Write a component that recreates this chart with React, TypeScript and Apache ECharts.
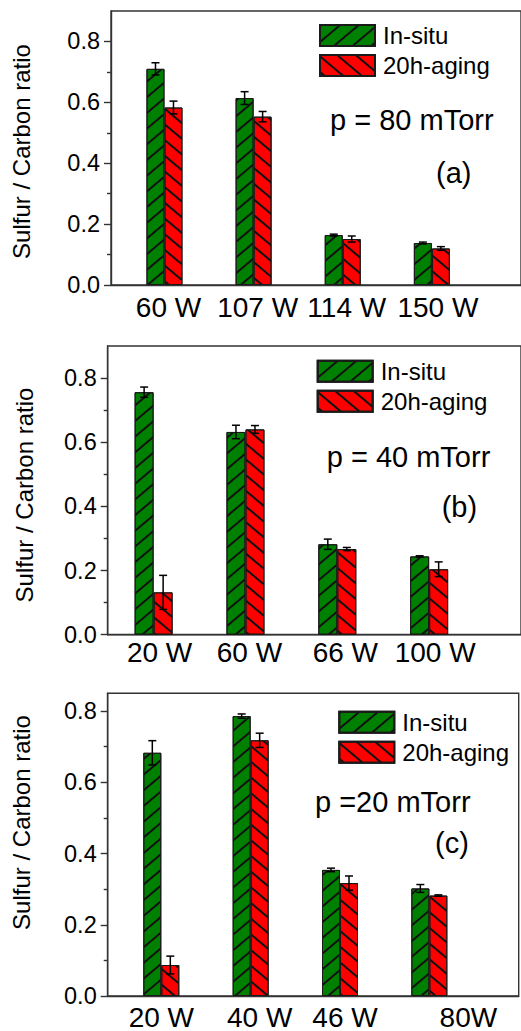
import { useEffect, useRef } from 'react';
import * as echarts from 'echarts';

const FONT = "'Liberation Sans', Arial, sans-serif";

const seriesNames = ['In-situ', '20h-aging'];
const yTitle = 'Sulfur / Carbon ratio';
const yTicks = [0, 0.2, 0.4, 0.6, 0.8];
const yMinorTicks = [0.1, 0.3, 0.5, 0.7];

// Panel (a) p = 80 mTorr
const catsA = ['60 W', '107 W', '114 W', '150 W'];
const inSituA = [0.71, 0.614, 0.164, 0.138];
const inSituErrA = [0.02, 0.021, 0.003, 0.003];
const agingA = [0.583, 0.553, 0.151, 0.12];
const agingErrA = [0.021, 0.017, 0.01, 0.006];

// Panel (b) p = 40 mTorr
const catsB = ['20 W', '60 W', '66 W', '100 W'];
const inSituB = [0.756, 0.632, 0.282, 0.244];
const inSituErrB = [0.016, 0.021, 0.016, 0.002];
const agingB = [0.132, 0.64, 0.267, 0.204];
const agingErrB = [0.053, 0.012, 0.005, 0.023];

// Panel (c) p = 20 mTorr
const catsC = ['20 W', '40 W', '46 W', '80W'];
const inSituC = [0.683, 0.786, 0.354, 0.302];
const inSituErrC = [0.034, 0.006, 0.005, 0.011];
const agingC = [0.087, 0.718, 0.317, 0.282];
const agingErrC = [0.025, 0.02, 0.02, 0.002];

const panels = [
  {
    cats: catsA, a: inSituA, aErr: inSituErrA, b: agingA, bErr: agingErrA,
    note: 'p = 80 mTorr', tag: '(a)', yMax: 0.9, xMin: 0.4, xMax: 5,
    grid: { left: 111, top: 11, width: 411, height: 274 },
    barWidth: 18, labelMargin: 8, labelShift: [4, 4, 4, 6],
    legend: { left: 319, top: 23.5 },
    notePos: [330, 120], tagPos: [436, 172.5], titlePos: [21, 151.5],
  },
  {
    cats: catsB, a: inSituB, aErr: inSituErrB, b: agingB, bErr: agingErrB,
    note: 'p = 40 mTorr', tag: '(b)', yMax: 0.9, xMin: 0.5, xMax: 5,
    grid: { left: 107.7, top: 346, width: 416.7, height: 288.7 },
    barWidth: 19, labelMargin: 4, labelShift: [6, 4, 8, 6],
    legend: { left: 316.7, top: 359.2 },
    notePos: [326.7, 456.7], tagPos: [441.7, 506.7], titlePos: [24, 495],
  },
  {
    cats: catsC, a: inSituC, aErr: inSituErrC, b: agingC, bErr: agingErrC,
    note: 'p =20 mTorr', tag: '(c)', yMax: 0.85, xMin: 0.4, xMax: 5,
    grid: { left: 107.7, top: 693.3, width: 411, height: 302.7 },
    barWidth: 18, labelMargin: 7, labelShift: [0, 9, 5, 39],
    legend: { left: 338.3, top: 710.2 },
    notePos: [315, 801.7], tagPos: [435, 843.3], titlePos: [21.7, 822.5],
  },
];

const GREEN = '#008000';
const RED = '#ff0000';
const AXIS = { color: '#333', width: 1.4 };

function hatch(rotation: number) {
  return {
    symbol: 'rect',
    symbolSize: 1,
    color: '#111',
    dashArrayX: [1, 0],
    dashArrayY: [1.4, 9.6],
    rotation,
  };
}

function errorBars(values: number[], errs: number[], shift: number, gi: number) {
  return {
    type: 'custom',
    xAxisIndex: gi,
    yAxisIndex: gi * 2,
    z: 10,
    silent: true,
    encode: { x: 0, y: 1 },
    data: values.map((v, k) => [k + 1, v, errs[k]]),
    renderItem: (_params: any, api: any) => {
      const x = api.value(0);
      const y = api.value(1);
      const e = api.value(2);
      const top = api.coord([x, y + e]);
      const bot = api.coord([x, y - e]);
      const cx = top[0] + shift;
      const st = { stroke: '#000', lineWidth: 1.5 };
      return {
        type: 'group',
        children: [
          { type: 'line', shape: { x1: cx, y1: top[1], x2: cx, y2: bot[1] }, style: st },
          { type: 'line', shape: { x1: cx - 4, y1: top[1], x2: cx + 4, y2: top[1] }, style: st },
          { type: 'line', shape: { x1: cx - 4, y1: bot[1], x2: cx + 4, y2: bot[1] }, style: st },
        ],
      };
    },
  };
}

export default function App() {
  const ref = useRef<HTMLDivElement>(null);

  useEffect(() => {
    if (!ref.current) return;
    const chart = echarts.init(ref.current, undefined, { renderer: 'svg' });

    const grid: any[] = [];
    const xAxis: any[] = [];
    const yAxis: any[] = [];
    const legend: any[] = [];
    const series: any[] = [];
    const graphic: any[] = [];

    panels.forEach((p, i) => {
      grid.push({
        ...p.grid,
        show: true,
        borderColor: '#333',
        borderWidth: 1.4,
        backgroundColor: 'transparent',
      });
      const rich: any = {};
      p.labelShift.forEach((s, k) => {
        rich['l' + k] = { fontSize: 28, fontFamily: FONT, color: '#000', padding: [0, 0, 0, s * 2] };
      });
      xAxis.push({
        type: 'value',
        gridIndex: i,
        min: p.xMin,
        max: p.xMax,
        axisLine: { show: true, lineStyle: AXIS },
        axisTick: { show: false },
        splitLine: { show: false },
        axisLabel: {
          customValues: [1, 2, 3, 4],
          margin: p.labelMargin,
          fontSize: 28,
          color: '#000',
          fontFamily: FONT,
          rich,
          formatter: (v: number) => {
            const k = Math.round(v) - 1;
            return '{l' + k + '|' + p.cats[k] + '}';
          },
        },
      });
      yAxis.push({
        type: 'value',
        gridIndex: i,
        min: 0,
        max: p.yMax,
        position: 'left',
        axisLine: { show: true, lineStyle: AXIS },
        axisTick: { show: true, length: 7, customValues: yTicks, lineStyle: AXIS },
        axisLabel: {
          customValues: yTicks,
          formatter: (v: number) => v.toFixed(1),
          fontSize: 23.5,
          color: '#000',
          fontFamily: FONT,
          margin: 11,
        },
        splitLine: { show: false },
      });
      yAxis.push({
        type: 'value',
        gridIndex: i,
        min: 0,
        max: p.yMax,
        position: 'left',
        offset: 0,
        axisLine: { show: false },
        axisTick: { show: true, length: 4, customValues: yMinorTicks, lineStyle: AXIS },
        axisLabel: { show: false },
        splitLine: { show: false },
      });
      legend.push({
        data: seriesNames,
        orient: 'vertical',
        left: p.legend.left,
        top: p.legend.top,
        padding: 0,
        itemWidth: 55,
        itemHeight: 21,
        itemGap: 6,
        icon: 'rect',
        selectedMode: false,
        textStyle: { fontSize: 24, color: '#000', fontFamily: FONT, padding: [0, 0, 0, 3] },
      });
      series.push({
        type: 'bar',
        name: seriesNames[0],
        xAxisIndex: i,
        yAxisIndex: i * 2,
        barWidth: p.barWidth,
        barGap: '0%',
        data: p.a.map((v, k) => [k + 1, v]),
        itemStyle: { color: GREEN, borderColor: '#1a1a1a', borderWidth: 1, decal: hatch(-0.7) },
      });
      series.push({
        type: 'bar',
        name: seriesNames[1],
        xAxisIndex: i,
        yAxisIndex: i * 2,
        barWidth: p.barWidth,
        barGap: '0%',
        data: p.b.map((v, k) => [k + 1, v]),
        itemStyle: { color: RED, borderColor: '#1a1a1a', borderWidth: 1, decal: hatch(0.7) },
      });
      series.push(errorBars(p.a, p.aErr, -p.barWidth / 2, i));
      series.push(errorBars(p.b, p.bErr, p.barWidth / 2, i));

      graphic.push({
        type: 'text',
        x: p.titlePos[0],
        y: p.titlePos[1],
        rotation: Math.PI / 2,
        style: {
          text: yTitle,
          fontSize: 24,
          fontFamily: FONT,
          fill: '#000',
          align: 'center',
          verticalAlign: 'middle',
        },
      });
      graphic.push({
        type: 'text',
        x: p.notePos[0],
        y: p.notePos[1],
        style: { text: p.note, fontSize: 29, fontFamily: FONT, fill: '#000', align: 'left', verticalAlign: 'middle' },
      });
      graphic.push({
        type: 'text',
        x: p.tagPos[0],
        y: p.tagPos[1],
        style: { text: p.tag, fontSize: 29, fontFamily: FONT, fill: '#000', align: 'left', verticalAlign: 'middle' },
      });
    });

    chart.setOption({
      animation: false,
      backgroundColor: '#fff',
      textStyle: { fontFamily: FONT },
      grid,
      xAxis,
      yAxis,
      legend,
      series,
      graphic,
    });

    return () => chart.dispose();
  }, []);

  return (
    <div
      ref={ref}
      style={{ position: 'absolute', left: 0, top: 0, width: 521, height: 1031 }}
    />
  );
}
